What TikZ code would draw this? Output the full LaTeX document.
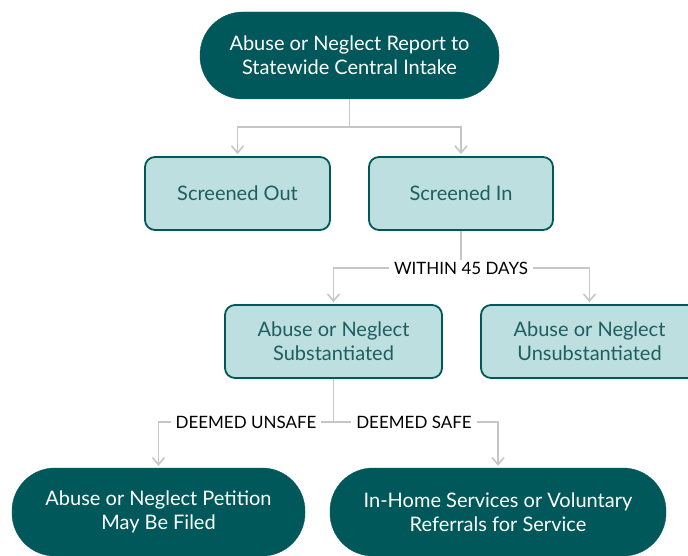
\documentclass[tikz,border=0pt]{standalone}
\usepackage{fontspec}
\setmainfont{Lato}
\usetikzlibrary{arrows.meta}
\definecolor{darkteal}{HTML}{01585A}
\definecolor{lightteal}{HTML}{BDDFE0}
\definecolor{boxtext}{HTML}{1D5F61}
\definecolor{linkgray}{HTML}{C6C6C6}
\tikzset{
  pill/.style={fill=darkteal, draw=darkteal, text=white, align=center,
    font=\fontsize{20}{24}\selectfont, rounded corners=43pt, inner sep=0pt},
  stepbox/.style={fill=lightteal, draw=darkteal, line width=1.8pt, text=boxtext,
    align=center, font=\fontsize{20}{24}\selectfont, rounded corners=10pt,
    minimum height=73pt, inner sep=0pt},
  link/.style={draw=linkgray, line width=1.8pt},
  arrowlink/.style={link, -{Straight Barb[length=7pt,width=12pt,line width=1.6pt]}, shorten >=2pt},
  tag/.style={fill=white, text=black, font=\fontsize{17}{20}\selectfont, inner xsep=5pt, inner ysep=2pt}
}
\begin{document}
\begin{tikzpicture}[x=1pt,y=-1pt]
\useasboundingbox (0,0) rectangle (688,556);
\clip (0,0) rectangle (688,556);
% boxes
\node[pill, minimum width=299pt, minimum height=87pt] (top) at (349.5,55.5)
  {Abuse or Neglect Report to\\Statewide Central Intake};
\node[stepbox, minimum width=185pt] (out) at (237.5,193.5) {Screened Out};
\node[stepbox, minimum width=184pt] (in) at (461,193.5) {Screened In};
\node[stepbox, minimum width=217pt] (sub) at (333.5,341.5) {Abuse or Neglect\\Substantiated};
\node[stepbox, minimum width=217pt] (unsub) at (589.5,341.5) {Abuse or Neglect\\Unsubstantiated};
\node[pill, minimum width=293pt, minimum height=88pt] (pet) at (158.5,512)
  {Abuse or Neglect Petition\\May Be Filed};
\node[pill, minimum width=336pt, minimum height=88pt] (home) at (498,512)
  {In-Home Services or Voluntary\\Referrals for Service};
% junctions
\coordinate (j1) at (349.5,127);
\coordinate (j2) at (461,268);
\coordinate (j3) at (333.5,422);
% connectors
\draw[link] (top) -- (j1);
\draw[arrowlink] (j1) -| (out.north);
\draw[arrowlink] (j1) -| (in.north);
\draw[link] (in) -- (j2);
\draw[arrowlink] (j2) -| (sub.north);
\draw[arrowlink] (j2) -| (unsub.north);
\draw[link] (sub) -- (j3);
\draw[arrowlink] (j3) -| (pet.north);
\draw[arrowlink] (j3) -| (home.north);
% labels on the lines
\node[tag] (within) at (j2) {WITHIN 45 DAYS};
\node[tag] (unsafe) at (246,422) {DEEMED UNSAFE};
\node[tag] (safe) at (414,422) {DEEMED SAFE};
\end{tikzpicture}
\end{document}
